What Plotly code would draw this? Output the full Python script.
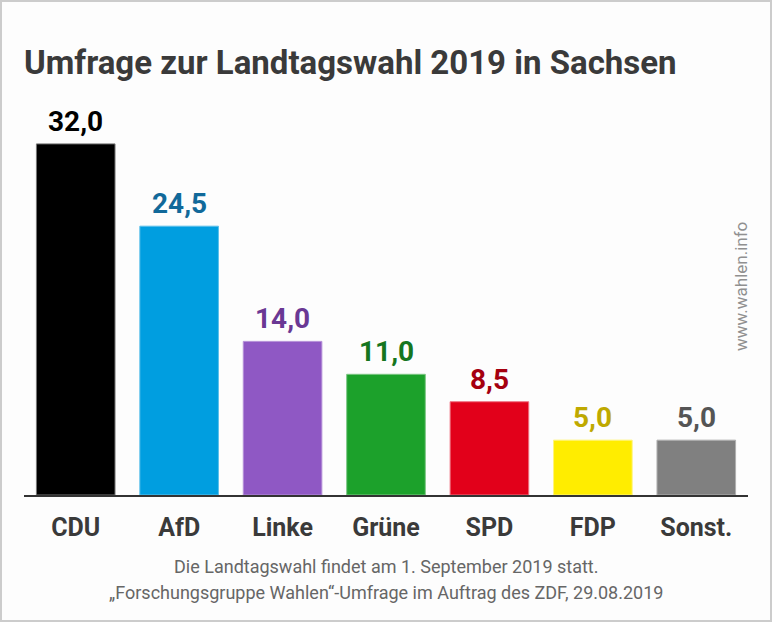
import plotly.graph_objects as go

parties = ["CDU", "AfD", "Linke", "Grüne", "SPD", "FDP", "Sonst."]
values = [32.0, 24.5, 14.0, 11.0, 8.5, 5.0, 5.0]
bar_colors = ["#000000", "#009ee0", "#8f58c4", "#1ca12b", "#e2001a", "#ffed00", "#808080"]
edge_colors = ["#777777", "#5cc0ea", "#b590d8", "#7cc684", "#ee7080", "#fff47a", "#b0b0b0"]
label_colors = ["#000000", "#11699a", "#6a3894", "#15761f", "#a5000f", "#bfa900", "#555555"]

title = "Umfrage zur Landtagswahl 2019 in Sachsen"
footer1 = "Die Landtagswahl findet am 1. September 2019 statt."
footer2 = "„Forschungsgruppe Wahlen“-Umfrage im Auftrag des ZDF, 29.08.2019"
watermark = "www.wahlen.info"

FONT = "Roboto"

fig = go.Figure(go.Bar(
    x=parties, y=values,
    marker=dict(color=bar_colors, line=dict(color=edge_colors, width=1)),
    hoverinfo="skip",
))

annotations = []
for p, v, c in zip(parties, values, label_colors):
    annotations.append(dict(
        x=p, y=v, xref="x", yref="y",
        text=f"{v:.1f}".replace(".", ","),
        showarrow=False, yanchor="bottom", yshift=4,
        font=dict(family=FONT, size=28, color=c, weight="bold"),
    ))

annotations += [
    dict(x=0.5, y=566, xref="paper", yref="paper", text=footer1, showarrow=False,
         font=dict(family=FONT, size=18, color="#666666")),
    dict(x=0.5, y=592, xref="paper", yref="paper", text=footer2, showarrow=False,
         font=dict(family=FONT, size=18, color="#666666")),
]

fig.update_layout(
    width=772, height=622,
    paper_bgcolor="#fdfdfd", plot_bgcolor="#fdfdfd",
    margin=dict(l=24, r=24, t=100, b=127),
    bargap=0.24,
    showlegend=False,
    title=dict(text=title, x=24 / 772, xanchor="left", y=1 - 62 / 622, yanchor="middle",
               font=dict(family=FONT, size=33, color="#3a3a3a", weight="bold")),
    xaxis=dict(showline=True, linecolor="#333333", linewidth=2, ticks="outside",
               ticklen=9, tickcolor="rgba(0,0,0,0)",
               tickfont=dict(family=FONT, size=25, color="#3a3a3a", weight="bold"),
               fixedrange=True),
    yaxis=dict(range=[0, 36], visible=False, fixedrange=True),
)

plot_h = 622 - 100 - 127
for a in annotations:
    if a.get("yref") == "paper":
        a["y"] = (622 - 127 - a["y"]) / plot_h
        a["yanchor"] = "middle"

annotations.append(dict(
    x=(753 - 24) / (772 - 48), y=(495 - 287) / plot_h, xref="paper", yref="paper",
    text=watermark, textangle=-90, showarrow=False,
    font=dict(family=FONT, size=17, color="#909090"),
))
fig.update_layout(annotations=annotations)

fig.add_shape(type="rect", xref="paper", yref="paper",
              x0=-23 / 724, x1=1 + 23 / 724,
              y0=-126 / plot_h, y1=1 + 99 / plot_h,
              line=dict(color="#cccccc", width=2), layer="below")

fig.write_html("out.html", config={"displayModeBar": False},
               post_script="document.body.style.margin='0';document.body.style.overflow='hidden';")
